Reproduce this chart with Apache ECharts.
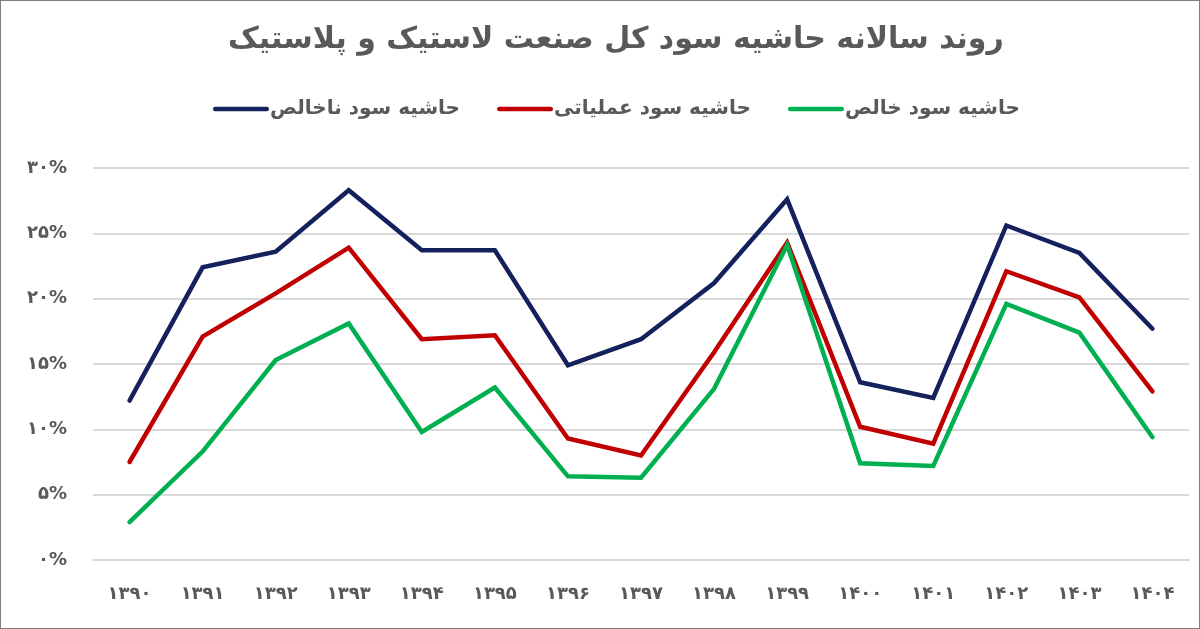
<!DOCTYPE html>
<html>
<head>
<meta charset="utf-8">
<script src="https://cdn.jsdelivr.net/npm/echarts@6/dist/echarts.min.js"></script>
<style>
  html, body { margin: 0; padding: 0; background: #fff; }
  #ChartLine { width: 1200px; height: 629px; box-sizing: border-box; border: 1px solid #7f7f7f; }
</style>
</head>
<body>
<div id="ChartLine"></div>
<script>
// سال‌ها
const years = ['۱۳۹۰', '۱۳۹۱', '۱۳۹۲', '۱۳۹۳', '۱۳۹۴', '۱۳۹۵', '۱۳۹۶', '۱۳۹۷', '۱۳۹۸', '۱۳۹۹', '۱۴۰۰', '۱۴۰۱', '۱۴۰۲', '۱۴۰۳', '۱۴۰۴'];
const yTickLabels = ['۰%', '۵%', '۱۰%', '۱۵%', '۲۰%', '۲۵%', '۳۰%'];

const grossMargin = [12.2, 22.4, 23.6, 28.3, 23.7, 23.7, 14.9, 16.9, 21.2, 27.6, 13.6, 12.4, 25.6, 23.5, 17.7];
const operatingMargin = [7.5, 17.1, 20.4, 23.9, 16.9, 17.2, 9.3, 8.0, 15.9, 24.3, 10.2, 8.9, 22.1, 20.1, 12.9];
const netMargin = [2.9, 8.3, 15.3, 18.1, 9.8, 13.2, 6.4, 6.3, 13.1, 24.1, 7.4, 7.2, 19.6, 17.4, 9.4];

const seriesNames = ['حاشیه سود ناخالص', 'حاشیه سود عملیاتی', 'حاشیه سود خالص'];
const seriesColors = ['#14215c', '#c00000', '#00b050'];

const font = "'DejaVu Sans', 'Noto Sans', sans-serif";
const textColor = '#595959';

const chartDom = document.getElementById('ChartLine');
const myChart = echarts.init(chartDom);

const lineIcon = 'path://M2,0 L48,0 A2,2 0 0 1 48,4 L2,4 A2,2 0 0 1 2,0 Z';

const option = {
  animation: false,
  title: {
    text: 'روند سالانه حاشیه سود کل صنعت لاستیک و پلاستیک',
    left: 222,
    top: 19,
    textStyle: {
      fontFamily: font,
      fontSize: 30,
      fontWeight: 'bold',
      color: textColor
    }
  },
  legend: {
    data: seriesNames,
    top: 93,
    left: 207,
    itemWidth: 56,
    itemHeight: 5,
    itemGap: 37,
    icon: lineIcon,
    textStyle: {
      fontFamily: font,
      fontSize: 20,
      fontWeight: 'bold',
      color: textColor,
      padding: [0, 0, 0, -4]
    }
  },
  grid: {
    left: 92,
    right: 10,
    top: 167,
    bottom: 68
  },
  xAxis: {
    type: 'category',
    boundaryGap: true,
    data: years,
    axisLine: { lineStyle: { color: '#d9d9d9', width: 2 } },
    axisTick: { show: false },
    axisLabel: {
      margin: 25,
      fontFamily: font,
      fontSize: 18,
      fontWeight: 'bold',
      color: textColor
    }
  },
  yAxis: {
    type: 'value',
    min: 0,
    max: 30,
    interval: 5,
    axisLine: { show: false },
    axisTick: { show: false },
    splitLine: { lineStyle: { color: '#d9d9d9', width: 2 } },
    axisLabel: {
      margin: 26,
      fontFamily: font,
      fontSize: 18,
      fontWeight: 'bold',
      color: textColor,
      formatter: function (v) { return yTickLabels[Math.round(v / 5)]; }
    }
  },
  series: [
    { name: seriesNames[0], data: grossMargin },
    { name: seriesNames[1], data: operatingMargin },
    { name: seriesNames[2], data: netMargin }
  ].map(function (s, i) {
    return {
      name: s.name,
      type: 'line',
      data: s.data,
      symbol: 'none',
      color: seriesColors[i],
      lineStyle: { width: 4.5, color: seriesColors[i], cap: 'round', join: 'miter' }
    };
  })
};

option && myChart.setOption(option);
</script>
</body>
</html>
